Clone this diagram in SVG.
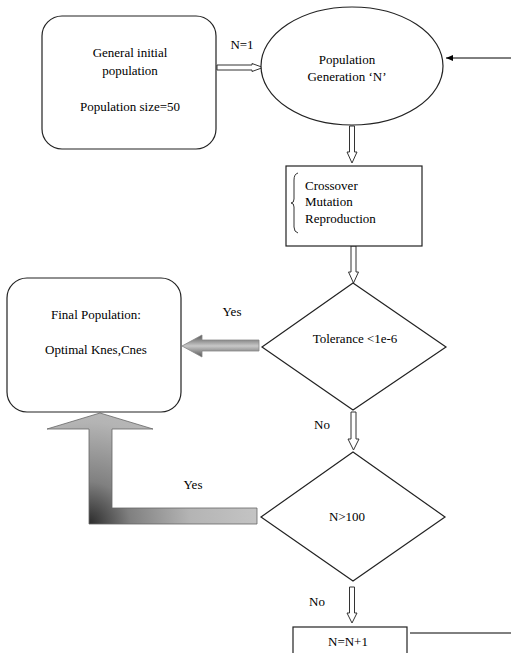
<svg xmlns="http://www.w3.org/2000/svg" width="511" height="653" viewBox="0 0 511 653">
<style>
text{font-family:"Liberation Serif",Tinos,"Times New Roman","DejaVu Serif","Noto Serif",serif;font-size:13px;fill:#000}
.c{text-anchor:middle}
.shape{fill:#fff;stroke:#222;stroke-width:1.2}
.hollow{fill:#fff;stroke:#333;stroke-width:1}
.line{stroke:#000;stroke-width:1;fill:none}
</style>
<defs>
<linearGradient id="gL" x1="0" y1="0" x2="0" y2="1">
<stop offset="0" stop-color="#555"/>
<stop offset="0.5" stop-color="#c8c8c8"/>
<stop offset="1" stop-color="#555"/>
</linearGradient>
<radialGradient id="gBig" gradientUnits="userSpaceOnUse" cx="88" cy="524" r="170">
<stop offset="0" stop-color="#2a2a2a"/>
<stop offset="0.25" stop-color="#808080"/>
<stop offset="0.6" stop-color="#b4b4b4"/>
<stop offset="1" stop-color="#c4c4c4"/>
</radialGradient>
<marker id="ah" markerWidth="8" markerHeight="8" refX="7" refY="4" orient="auto" markerUnits="userSpaceOnUse">
<path d="M0,1 L7,4 L0,7 Z" fill="#000"/>
</marker>
</defs>

<g id="connectors">
<polygon class="hollow" points="217,65 252,65 252,63.5 263,67.5 252,71.5 252,70 217,70"/>
<line class="line" x1="511" y1="58" x2="446" y2="58" marker-end="url(#ah)"/>
<polygon class="hollow" points="349.5,126 354.5,126 354.5,152 357,152 352,163 347,152 349.5,152"/>
<polygon class="hollow" points="351,246 356,246 356,272 358.5,272 353.5,283 348.5,272 351,272"/>
<polygon fill="url(#gL)" stroke="#888" stroke-width="0.8" points="259,340 202,340 202,335 182,346 202,357 202,351 259,351"/>
<polygon class="hollow" points="351,412 356,412 356,439 359,439 353.5,450 348,439 351,439"/>
<polygon fill="url(#gBig)" stroke="#666" stroke-width="0.8" points="257,508 112,508 112,429 153,429 100,413 47,429 89,429 89,524 257,524"/>
<polygon class="hollow" points="349.5,587 354.5,587 354.5,613 357,613 352,623 347,613 349.5,613"/>
<line class="line" x1="410" y1="633" x2="511" y2="633"/>
<text x="242" y="49" class="c">N=1</text>
<text x="232" y="316" class="c">Yes</text>
<text x="322" y="429" class="c">No</text>
<text x="193" y="489" class="c">Yes</text>
<text x="317" y="606" class="c">No</text>
</g>

<g id="initial">
<rect class="shape" x="42" y="16" width="174" height="133" rx="20"/>
<text x="130" y="57" class="c">General initial</text>
<text x="130" y="75" class="c">population</text>
<text x="130" y="111" class="c">Population size=50</text>
</g>

<g id="generation">
<ellipse class="shape" cx="352" cy="66" rx="91" ry="59"/>
<text x="347" y="64" class="c">Population</text>
<text x="347" y="81" class="c">Generation ‘N’</text>
</g>

<g id="operators">
<rect class="shape" x="286" y="166" width="136" height="80"/>
<path d="M298,173 Q294,174 294,180 L294,199 Q294,203 291,203 Q294,203 294,207 L294,227 Q294,232 298,233" fill="none" stroke="#333" stroke-width="1"/>
<text x="305" y="190">Crossover</text>
<text x="305" y="206">Mutation</text>
<text x="305" y="223">Reproduction</text>
</g>

<g id="tolerance">
<polygon class="shape" points="353,283 446,347 353,410 262,347"/>
<text x="355" y="343" class="c">Tolerance &lt;1e-6</text>
</g>

<g id="final">
<rect class="shape" x="7" y="278" width="174" height="134" rx="20"/>
<text x="96" y="319" class="c">Final Population:</text>
<text x="96" y="354" class="c">Optimal Knes,Cnes</text>
</g>

<g id="limit">
<polygon class="shape" points="353,452 445,517 353,581 261,517"/>
<text x="347" y="521" class="c">N&gt;100</text>
</g>

<g id="increment">
<rect class="shape" x="293" y="627" width="114" height="40"/>
<text x="348" y="646" class="c">N=N+1</text>
</g>
</svg>
